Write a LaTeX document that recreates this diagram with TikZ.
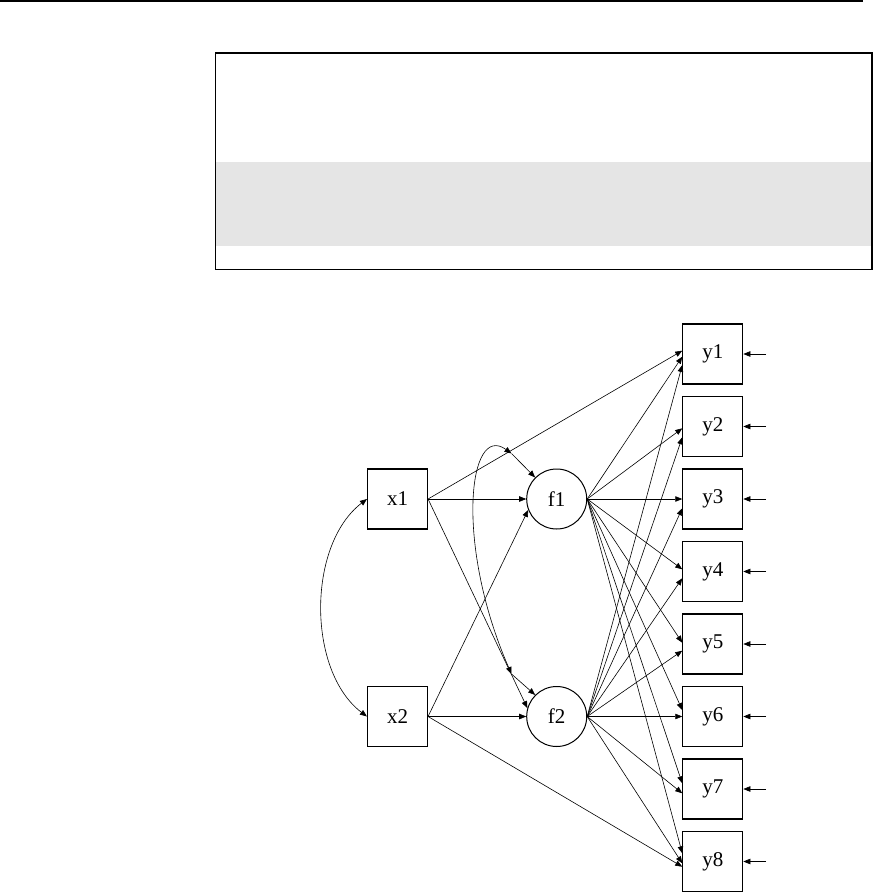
\documentclass[tikz,border=0pt]{standalone}
\usepackage{fontspec}
\setmainfont{Liberation Serif}
\usetikzlibrary{arrows.meta,calc}
\begin{document}
\begin{tikzpicture}[x=1pt,y=-1pt]
\tikzset{
  obs/.style={draw, line width=1.1pt, minimum width=60pt, minimum height=60pt, inner sep=0pt, font=\fontsize{21}{23}\selectfont},
  lat/.style={draw, circle, line width=1pt, minimum size=60pt, inner sep=0pt, font=\fontsize{21}{23}\selectfont},
  conn/.style={-{Triangle[length=7pt,width=5.5pt]}, line width=0.6pt},
  biconn/.style={{Triangle[length=7pt,width=5.5pt]}-{Triangle[length=7pt,width=5.5pt]}, line width=0.6pt},
  frame/.style={draw, line width=1.3pt}
}
\useasboundingbox (0,0) rectangle (879,893);
% header rule and box
\draw[line width=2.5pt] (0,1.25) -- (863,1.25);
\fill[gray!20] (215.5,162) rectangle (872,246);
\draw[frame] (215.5,53) rectangle (872,269.5);
% nodes
\node[obs] (x1) at (397.5,499) {x1};
\node[obs] (x2) at (397.5,716.5) {x2};
\node[lat] (f1) at (556.7,499) {f1};
\node[lat] (f2) at (556.7,716.5) {f2};
\foreach \k in {1,...,8}{
  \node[obs] (y\k) at (712.8,{354+72.5*(\k-1)}) {y\k};
  \coordinate (e\k) at (766,{354+72.5*(\k-1)});
  \draw[conn] (e\k) -- (y\k.east);
}
% structural paths
\draw[conn] (x1.east) -- (f1.west);
\draw[conn] (x1.east) -- (f2.164);
\draw[conn] (x2.east) -- (f1.201);
\draw[conn] (x2.east) -- (f2.west);
\draw[conn] (x1.east) -- ($(y1.west)+(0,-3.3)$);
\draw[conn] (x2.east) -- ($(y8.west)+(0,5.2)$);
% loadings
\foreach \k/\o in {1/2.7,2/1.8,3/0,4/-2.2,5/-1.3,6/-6.5,7/-5.7,8/-8.2}
  \draw[conn] (f1.east) -- ($(y\k.west)+(0,\o)$);
\foreach \k/\o in {1/11,2/10.8,3/9.3,4/6.8,5/6.7,6/0,7/4.3,8/1.8}
  \draw[conn] (f2.east) -- ($(y\k.west)+(0,\o)$);
% covariances
\draw[biconn] (x1.west) .. controls (307,545) and (307,671) .. (x2.west);
\coordinate (r1) at (511.5,453.5);
\coordinate (r2) at (511.5,674);
\draw[biconn] (r1) .. controls (468,422) and (455,545) .. (r2);
\draw[conn] (r1) -- (f1.135);
\draw[conn] (r2) -- (f2.135);
\end{tikzpicture}
\end{document}
